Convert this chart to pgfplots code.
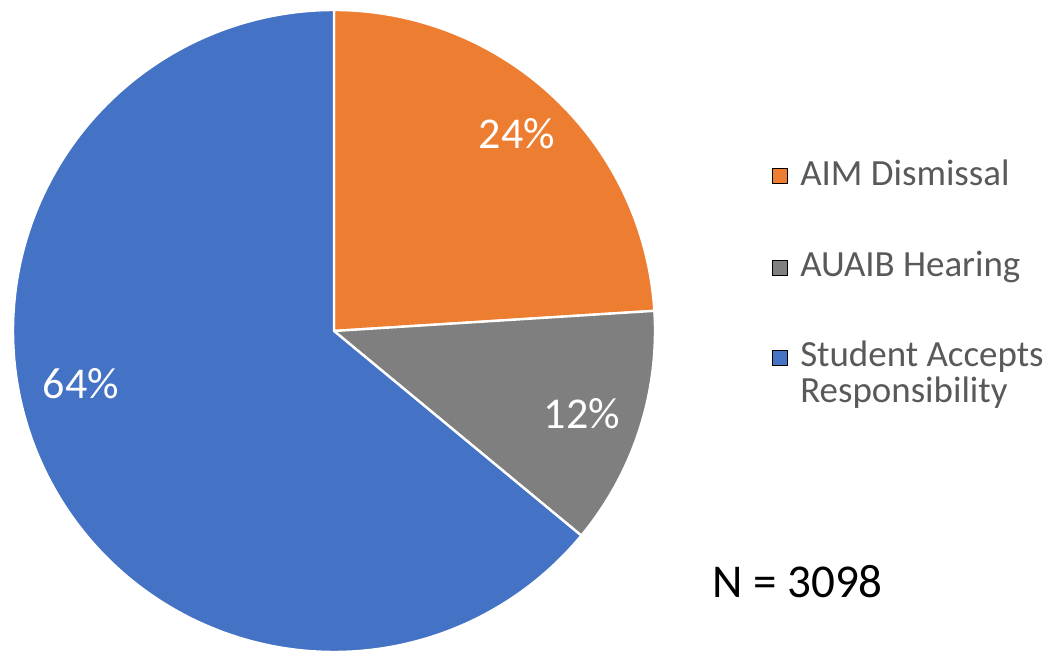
\documentclass[border=0pt]{standalone}
\usepackage{pgfplots}
\pgfplotsset{compat=1.18}
\usepackage{fontspec}
\setmainfont{Carlito}
\definecolor{cOrange}{HTML}{ED7D31}
\definecolor{cGray}{HTML}{7F7F7F}
\definecolor{cBlue}{HTML}{4472C4}
\definecolor{cText}{HTML}{595959}
% shares (percent): AIM Dismissal 24, AUAIB Hearing 12, Student Accepts Responsibility 64
% angles: start at 90 deg, clockwise, 3.6 deg per percent
\begin{document}
\begin{tikzpicture}
\begin{axis}[scale only axis, width=789pt, height=489pt,
  xmin=0, xmax=1052, ymin=0, ymax=652, hide axis, clip=false]
% AIM Dismissal 24% : 90 -> 3.6
\addplot[fill=cOrange, draw=white, line width=1.8pt, line join=round, domain=3.6:90, samples=90, variable=\t]
  ({334+321*cos(t)},{321+321*sin(t)}) -- (axis cs:334,321) -- cycle;
% AUAIB Hearing 12% : 3.6 -> -39.6
\addplot[fill=cGray, draw=white, line width=1.8pt, line join=round, domain=-39.6:3.6, samples=50, variable=\t]
  ({334+321*cos(t)},{321+321*sin(t)}) -- (axis cs:334,321) -- cycle;
% Student Accepts Responsibility 64% : -39.6 -> -270
\addplot[fill=cBlue, draw=white, line width=1.8pt, line join=round, domain=90:320.4, samples=200, variable=\t]
  ({334+321*cos(t)},{321+321*sin(t)}) -- (axis cs:334,321) -- cycle;
% legend squares
\addplot[only marks, mark=square*, mark size=5.6pt, mark options={draw=none, fill=cOrange}] coordinates {(780,476.5)};
\addplot[only marks, mark=square*, mark size=5.6pt, mark options={draw=none, fill=cGray}] coordinates {(780,384.5)};
\addplot[only marks, mark=square*, mark size=5.6pt, mark options={draw=none, fill=cBlue}] coordinates {(780,294.5)};
% legend text
\begin{scope}[every node/.style={anchor=base west, inner sep=0pt, text=cText, font=\fontsize{27.7}{32}\selectfont}]
\node at (axis cs:800,466) {AIM Dismissal};
\node at (axis cs:800,375) {AUAIB Hearing};
\node at (axis cs:800,285) {Student Accepts};
\node at (axis cs:800,249) {Responsibility};
\end{scope}
% slice labels
\begin{scope}[every node/.style={anchor=center, inner sep=0pt, text=white, font=\fontsize{33}{38}\selectfont}]
\node at (axis cs:517,518) {24\%};
\node at (axis cs:582,238) {12\%};
\node at (axis cs:81,268) {64\%};
\end{scope}
\node[anchor=base west, inner sep=0pt, font=\fontsize{35.3}{40}\selectfont] at (axis cs:712,54) {N = 3098};
\end{axis}
\pgfresetboundingbox
\path (current axis.south west) rectangle (current axis.north east);
\end{tikzpicture}
\end{document}
